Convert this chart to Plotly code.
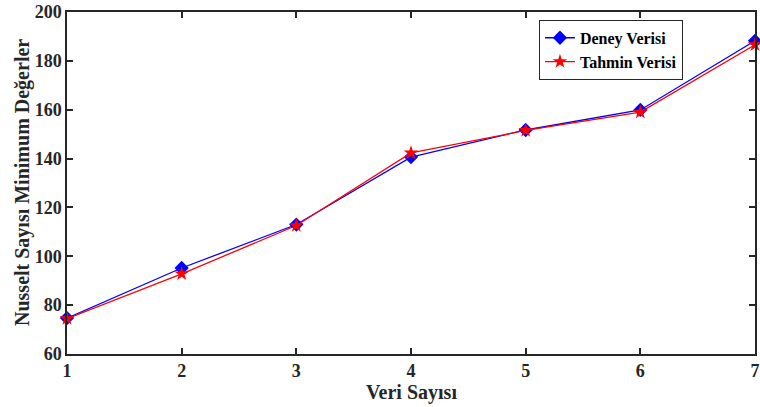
import plotly.graph_objects as go

veri = [1, 2, 3, 4, 5, 6, 7]
deney = [74.7, 95.2, 113.0, 140.6, 151.7, 159.9, 188.2]
tahmin = [74.5, 92.8, 112.6, 142.3, 151.5, 159.0, 186.6]
x_ticks = [1, 2, 3, 4, 5, 6, 7]
y_ticks = [60, 80, 100, 120, 140, 160, 180, 200]
x_title = "Veri Sayısı"
y_title = "Nusselt Sayısı Minimum Değerler"

font_family = "Liberation Serif"

fig = go.Figure()
fig.add_trace(go.Scatter(
    x=veri, y=deney, mode="lines+markers", name="<b>Deney Verisi</b>",
    line=dict(color="#0000FF", width=1.3),
    marker=dict(symbol="diamond", size=11, color="#0000FF"),
    cliponaxis=False,
))
fig.add_trace(go.Scatter(
    x=veri, y=tahmin, mode="lines+markers", name="<b>Tahmin Verisi</b>",
    line=dict(color="#FF0000", width=1.3),
    marker=dict(symbol="star", size=11, color="#FF0000"),
    cliponaxis=False,
))

axis_common = dict(
    showgrid=False, zeroline=False, showline=True, linecolor="#262626",
    linewidth=1.5, mirror="ticks", ticks="inside", ticklen=6, tickwidth=1.5,
    tickcolor="#262626", automargin=False,
    tickfont=dict(family=font_family, size=18, color="#262626"),
)

fig.update_layout(
    width=760, height=407,
    margin=dict(l=67, r=5, t=12, b=53),
    paper_bgcolor="white", plot_bgcolor="white",
    font=dict(family=font_family, color="#262626"),
    xaxis=dict(range=[1, 7], tickvals=x_ticks,
               ticktext=[f"<b>{v}</b>" for v in x_ticks], **axis_common),
    yaxis=dict(range=[60, 200], tickvals=y_ticks,
               ticktext=[f"<b>{v}</b>" for v in y_ticks], **axis_common),
    legend=dict(x=0.686, y=0.977, xanchor="left", yanchor="top",
                bgcolor="white", bordercolor="#262626", borderwidth=1,
                font=dict(family=font_family, size=16, color="black"),
                tracegroupgap=0, itemwidth=30),
    showlegend=True,
    annotations=[
        dict(text=f"<b>{x_title}</b>", xref="paper", yref="paper", x=0.5, y=0,
             xanchor="center", yanchor="middle", yshift=-38, showarrow=False,
             font=dict(family=font_family, size=20, color="#262626")),
        dict(text=f"<b>{y_title}</b>", xref="paper", yref="paper", x=0, y=0.5,
             xanchor="center", yanchor="middle", xshift=-45, textangle=-90,
             showarrow=False,
             font=dict(family=font_family, size=20, color="#262626")),
    ],
)

fig.write_html(
    "out.html",
    config={"displayModeBar": False},
    post_script="document.body.style.margin='0px';document.body.style.overflow='hidden';",
)
